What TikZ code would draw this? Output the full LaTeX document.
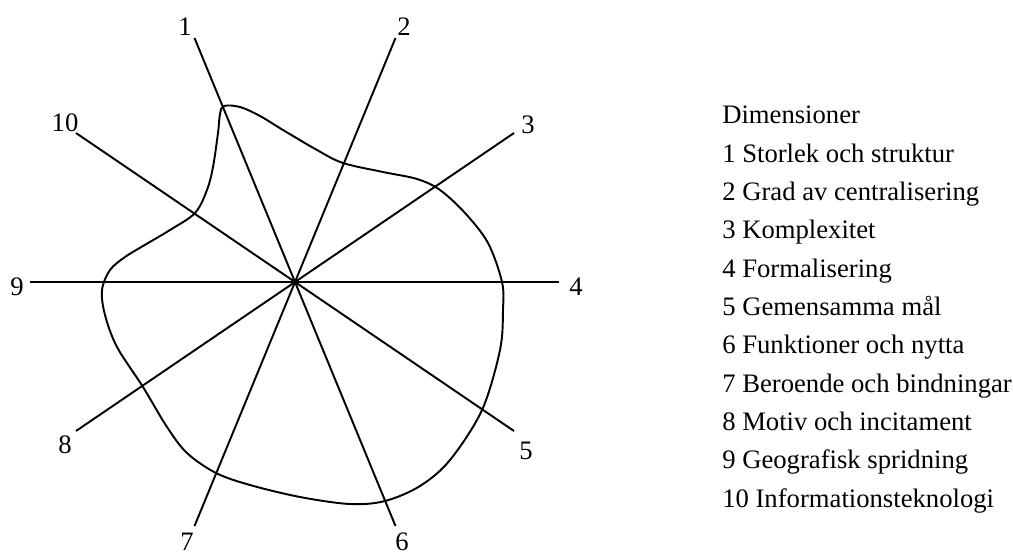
\documentclass[tikz,border=0pt]{standalone}
\usepackage{fontspec}
\setmainfont{Liberation Serif}
\begin{document}
\begin{tikzpicture}[x=0.75pt,y=-0.75pt,
  axis/.style={line width=1.45pt,line cap=butt},
  blob/.style={line width=1.45pt},
  num/.style={font=\fontsize{20pt}{24pt}\selectfont,inner sep=0pt,anchor=center},
  leg/.style={font=\fontsize{20pt}{24pt}\selectfont,inner sep=0pt,anchor=base west}]
\useasboundingbox (0,0) rectangle (1013,556);
% centre and axis ends
\coordinate (c) at (295,282);
\coordinate (e1) at (194.5,38);
\coordinate (e2) at (395.5,38);
\coordinate (e3) at (514,133);
\coordinate (e4) at (559,282);
\coordinate (e5) at (514,431);
\coordinate (e6) at (395.5,526);
\coordinate (e7) at (194.5,526);
\coordinate (e8) at (76,431);
\coordinate (e9) at (30,282);
\coordinate (e10) at (76,133);
\foreach \i in {1,...,10} {\draw[axis] (c) -- (e\i);}
% axis labels
\node[num] (l1) at (185,27) {1};
\node[num] (l2) at (404,27) {2};
\node[num] (l3) at (528,125) {3};
\node[num] (l4) at (576,287) {4};
\node[num] (l5) at (526,451) {5};
\node[num] (l6) at (402,542) {6};
\node[num] (l7) at (187,542) {7};
\node[num] (l8) at (65,445) {8};
\node[num] (l9) at (17,287) {9};
\node[num] (l10) at (65,123) {10};
% profile curve
\draw[blob] plot[smooth cycle,tension=0.55] coordinates {
 (224,106) (240,107) (260,116) (283,130) (317,150) (343,163) (383,172)
 (417,179) (440,190) (465,213) (488,243) (502,282) (503,310) (500,350)
 (482,410) (450,460) (420,486) (385,501) (350,504) (300,497) (250,485)
 (216,473) (187,453) (167,427) (143,387) (117,347) (105,315) (102,290)
 (110,270) (125,257) (143,246) (170,230) (195,213) (207,190) (213,167)
 (218,133) (220,114)};
% legend
\node[leg] (t0) at (722,124) {Dimensioner};
\node[leg] (t1) at (722,162.3) {1 Storlek och struktur};
\node[leg] (t2) at (722,200.6) {2 Grad av centralisering};
\node[leg] (t3) at (722,238.9) {3 Komplexitet};
\node[leg] (t4) at (722,277.2) {4 Formalisering};
\node[leg] (t5) at (722,315.5) {5 Gemensamma mål};
\node[leg] (t6) at (722,353.8) {6 Funktioner och nytta};
\node[leg] (t7) at (722,392.1) {7 Beroende och bindningar};
\node[leg] (t8) at (722,430.4) {8 Motiv och incitament};
\node[leg] (t9) at (722,468.7) {9 Geografisk spridning};
\node[leg] (t10) at (722,507) {10 Informationsteknologi};
\end{tikzpicture}
\end{document}
